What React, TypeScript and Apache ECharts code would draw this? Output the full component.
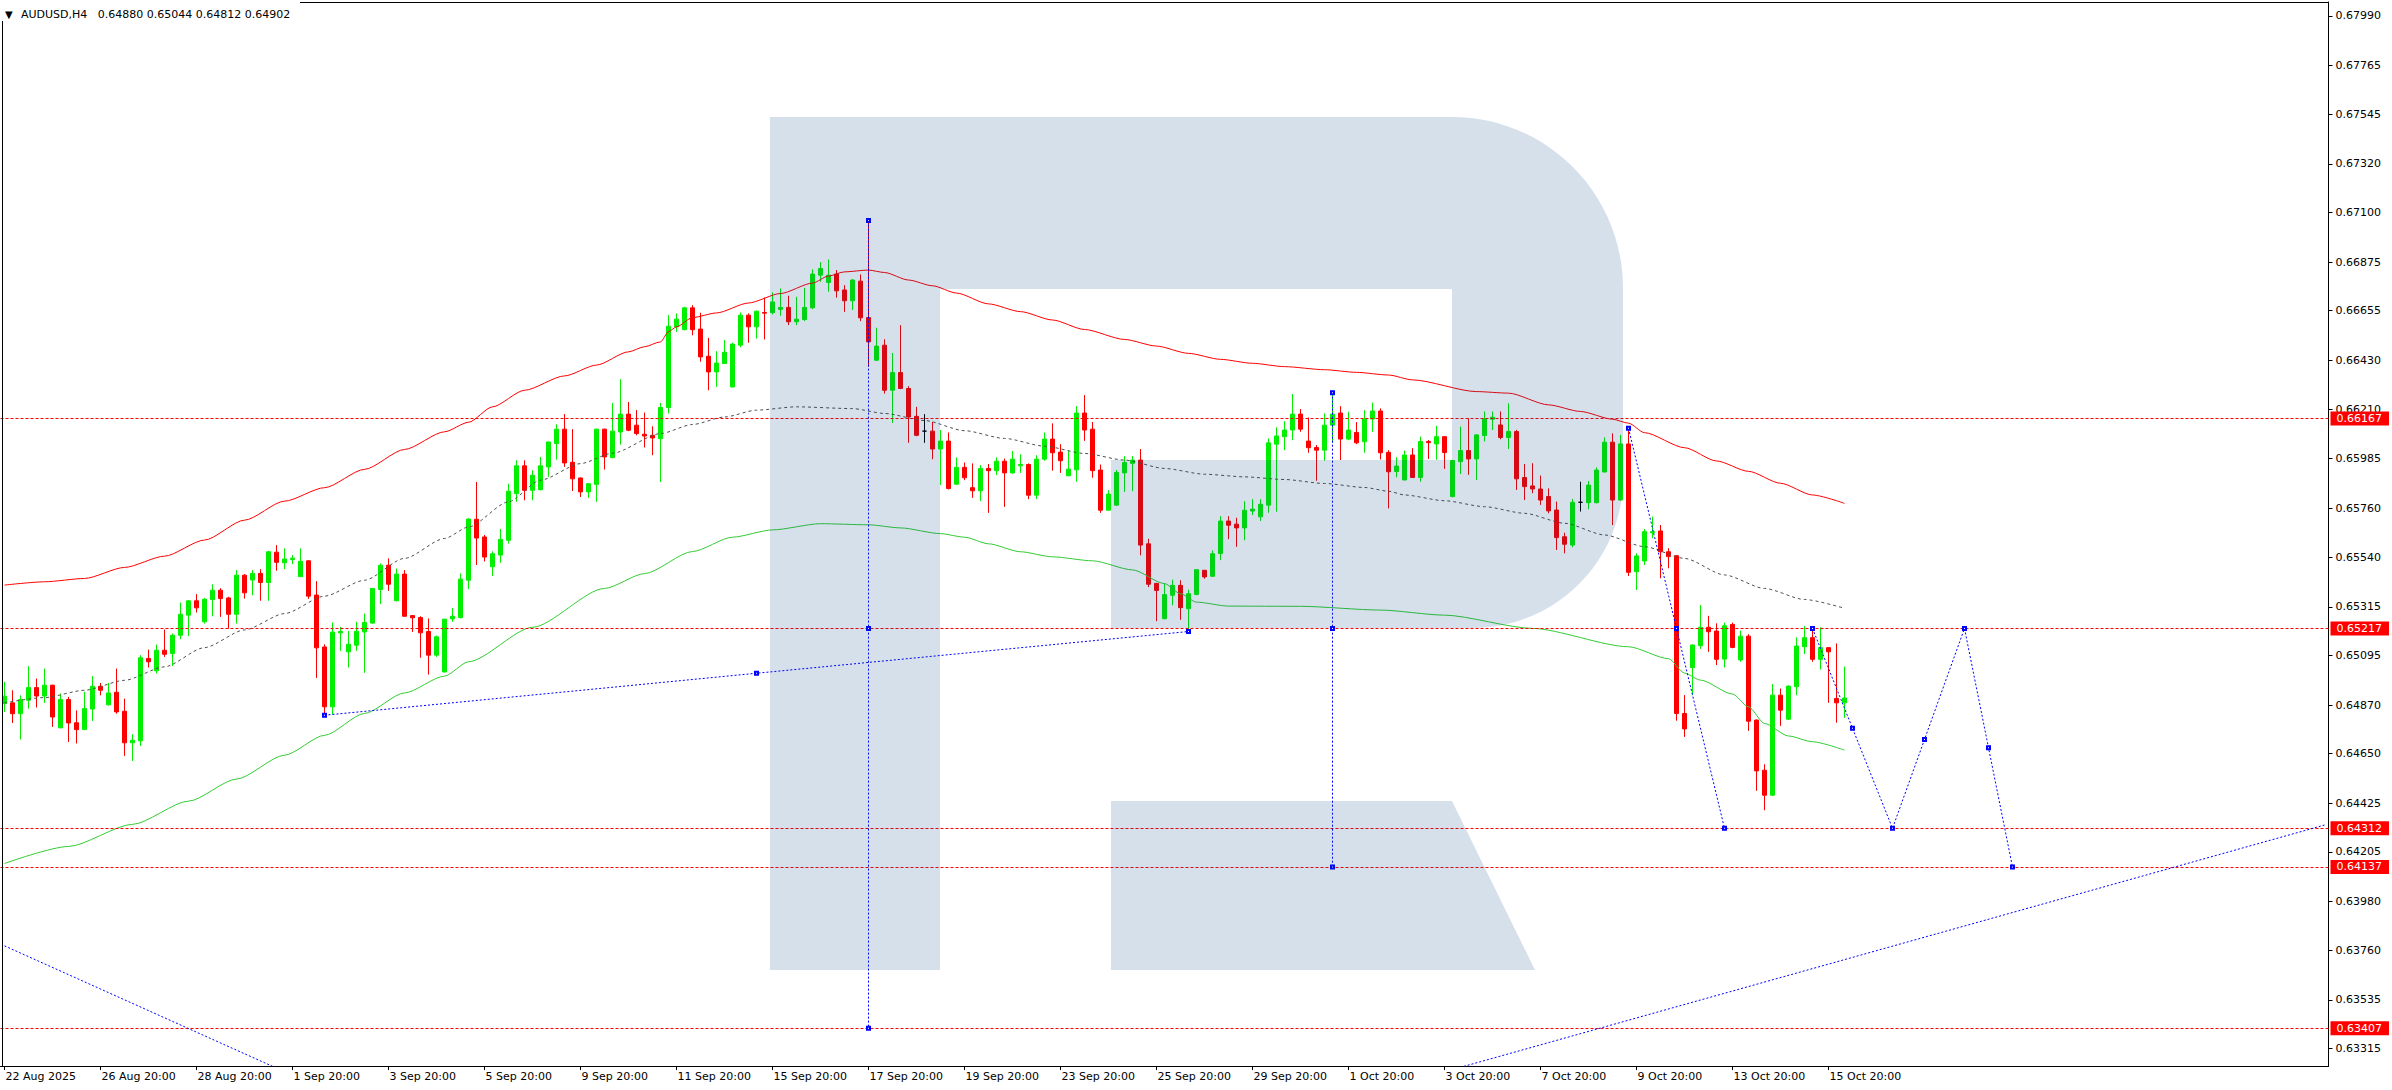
import React, { useEffect, useRef } from "react";
import * as echarts from "echarts";

const W = 2392;
const H = 1090;

// ---------- axis texts ----------
const xTickLabels = [
  "22 Aug 2025", "26 Aug 20:00", "28 Aug 20:00", "1 Sep 20:00", "3 Sep 20:00",
  "5 Sep 20:00", "9 Sep 20:00", "11 Sep 20:00", "15 Sep 20:00", "17 Sep 20:00",
  "19 Sep 20:00", "23 Sep 20:00", "25 Sep 20:00", "29 Sep 20:00", "1 Oct 20:00",
  "3 Oct 20:00", "7 Oct 20:00", "9 Oct 20:00", "13 Oct 20:00", "15 Oct 20:00",
];
const yTickValues = [
  0.6799, 0.67765, 0.67545, 0.6732, 0.671, 0.66875, 0.66655, 0.6643, 0.6621, 0.65985,
  0.6576, 0.6554, 0.65315, 0.65095, 0.6487, 0.6465, 0.64425, 0.64205, 0.6398, 0.6376,
  0.63535, 0.63315,
];
const SLOT_COUNT = 291;
const LABEL_STEP = 12;
const Y_MIN = 0.632362;
const Y_MAX = 0.680525;

// ---------- H4 candles (index 0 = 22 Aug 20:00) ----------
const opens = [
  0.64877, 0.6488, 0.64831, 0.64892, 0.64949, 0.64911, 0.6496, 0.64767, 0.64895, 0.6479,
  0.64759, 0.64852, 0.64955, 0.64871, 0.64928, 0.64842, 0.64699, 0.64708, 0.65081, 0.65025,
  0.65118, 0.65103, 0.65186, 0.65277, 0.65342, 0.65247, 0.65348, 0.6539, 0.65355, 0.65281,
  0.65458, 0.65436, 0.65466, 0.65425, 0.65562, 0.65514, 0.65529, 0.65451, 0.65523, 0.65368,
  0.65133, 0.64862, 0.65197, 0.65111, 0.65141, 0.65201, 0.65241, 0.65393, 0.65503, 0.65342,
  0.65463, 0.65275, 0.65266, 0.65203, 0.65096, 0.6502, 0.6526, 0.65266, 0.65435, 0.65711,
  0.65631, 0.65496, 0.65549, 0.65616, 0.65827, 0.65953, 0.65842, 0.65845, 0.65948, 0.66054,
  0.66119, 0.65969, 0.65898, 0.65835, 0.65869, 0.66119, 0.6599, 0.66106, 0.66187, 0.66137,
  0.66096, 0.66091, 0.66076, 0.66217, 0.66582, 0.66569, 0.66668, 0.66572, 0.66449, 0.66378,
  0.66416, 0.6631, 0.66499, 0.66635, 0.66582, 0.66647, 0.66646, 0.66661, 0.6667, 0.66605,
  0.66615, 0.66668, 0.66816, 0.66783, 0.66821, 0.66749, 0.667, 0.66789, 0.66624, 0.66431,
  0.66499, 0.66295, 0.66375, 0.66303, 0.66177, 0.6611, 0.6611, 0.66029, 0.66065, 0.6587,
  0.65946, 0.65854, 0.6584, 0.65941, 0.65931, 0.65974, 0.65921, 0.65953, 0.65959, 0.6582,
  0.65983, 0.66074, 0.66015, 0.65908, 0.65935, 0.66192, 0.66119, 0.65934, 0.65752, 0.65775,
  0.65921, 0.65964, 0.65979, 0.656, 0.65421, 0.65261, 0.65367, 0.65412, 0.65306, 0.65371,
  0.6548, 0.65453, 0.65556, 0.65703, 0.65689, 0.65672, 0.65748, 0.65722, 0.65775, 0.66051,
  0.66085, 0.66115, 0.66187, 0.66065, 0.66036, 0.66024, 0.66137, 0.66192, 0.66074, 0.66104,
  0.66062, 0.66165, 0.66201, 0.66014, 0.65927, 0.65889, 0.66002, 0.659, 0.66063, 0.66052,
  0.66085, 0.65814, 0.65972, 0.66022, 0.65984, 0.6609, 0.66164, 0.66138, 0.66081, 0.66108,
  0.659, 0.65862, 0.65848, 0.65814, 0.65753, 0.65632, 0.65594, 0.65788, 0.65786, 0.65786,
  0.65925, 0.6606, 0.65798, 0.66052, 0.65474, 0.65522, 0.6565, 0.65658, 0.65564, 0.65546,
  0.64832, 0.6504, 0.65139, 0.65222, 0.65205, 0.65078, 0.65235, 0.65074, 0.65182, 0.64802,
  0.64575, 0.64462, 0.64915, 0.64806, 0.64953, 0.65134, 0.65175, 0.65077, 0.6513, 0.649,
  0.6488,
];
const highs = [
  0.64975, 0.64937, 0.64914, 0.65046, 0.6499, 0.65035, 0.64962, 0.64922, 0.64907, 0.64846,
  0.6493, 0.65001, 0.6497, 0.6497, 0.65035, 0.64899, 0.64738, 0.65096, 0.65121, 0.65144,
  0.65212, 0.65194, 0.65334, 0.65344, 0.65372, 0.65355, 0.65417, 0.65399, 0.6536, 0.65481,
  0.65463, 0.65481, 0.65485, 0.65568, 0.65594, 0.65579, 0.65549, 0.65579, 0.65526, 0.65431,
  0.65145, 0.65244, 0.65224, 0.65206, 0.65247, 0.65284, 0.654, 0.65511, 0.65534, 0.65488,
  0.65481, 0.65277, 0.65272, 0.65262, 0.65185, 0.6526, 0.6531, 0.65466, 0.65715, 0.6588,
  0.6564, 0.65566, 0.65667, 0.65872, 0.65978, 0.65978, 0.65933, 0.65993, 0.66062, 0.66141,
  0.66187, 0.66119, 0.659, 0.65874, 0.66121, 0.66121, 0.66238, 0.66345, 0.66242, 0.66205,
  0.66194, 0.66132, 0.66238, 0.66635, 0.66643, 0.66673, 0.6668, 0.66646, 0.66532, 0.66472,
  0.66522, 0.6651, 0.66647, 0.66643, 0.66655, 0.66715, 0.66738, 0.66756, 0.66723, 0.66718,
  0.66759, 0.66842, 0.66875, 0.66887, 0.66839, 0.66771, 0.66798, 0.66819, 0.67062, 0.66578,
  0.66526, 0.66464, 0.6659, 0.66313, 0.6622, 0.66187, 0.66152, 0.66115, 0.66104, 0.65991,
  0.65968, 0.65964, 0.65956, 0.65961, 0.65991, 0.65986, 0.6602, 0.66005, 0.65964, 0.66001,
  0.66104, 0.66145, 0.66051, 0.66024, 0.66223, 0.66273, 0.66151, 0.65959, 0.65843, 0.65934,
  0.65997, 0.65997, 0.66029, 0.65623, 0.65422, 0.6542, 0.65438, 0.65435, 0.65392, 0.65484,
  0.65482, 0.6557, 0.65725, 0.65725, 0.65718, 0.65793, 0.65802, 0.65802, 0.66077, 0.66127,
  0.66155, 0.66278, 0.6621, 0.66172, 0.66047, 0.6619, 0.66284, 0.66223, 0.66198, 0.66151,
  0.66205, 0.66239, 0.66213, 0.66024, 0.65992, 0.66022, 0.66033, 0.66085, 0.6607, 0.66134,
  0.66087, 0.6598, 0.66131, 0.66168, 0.66097, 0.66199, 0.66199, 0.66199, 0.66236, 0.66116,
  0.65961, 0.65965, 0.65909, 0.65851, 0.65791, 0.6565, 0.65803, 0.65881, 0.65884, 0.65946,
  0.66082, 0.661, 0.66093, 0.66119, 0.65557, 0.65667, 0.65723, 0.65685, 0.6558, 0.65549,
  0.64915, 0.65144, 0.65323, 0.65274, 0.6524, 0.65243, 0.65243, 0.65207, 0.65191, 0.64805,
  0.64602, 0.64965, 0.64945, 0.64958, 0.65176, 0.65228, 0.65225, 0.65222, 0.65132, 0.65149,
  0.65044,
];
const lows = [
  0.64839, 0.64789, 0.64714, 0.64854, 0.64859, 0.6488, 0.64771, 0.64765, 0.64703, 0.64696,
  0.64757, 0.64798, 0.64914, 0.64868, 0.64831, 0.6464, 0.64617, 0.64685, 0.6504, 0.65013,
  0.65088, 0.65047, 0.65168, 0.65182, 0.65289, 0.65239, 0.65272, 0.65269, 0.65216, 0.65239,
  0.65352, 0.65367, 0.65342, 0.65342, 0.65478, 0.65485, 0.65508, 0.6545, 0.65351, 0.64993,
  0.64831, 0.64828, 0.65115, 0.6504, 0.65115, 0.65016, 0.65239, 0.65327, 0.65387, 0.6534,
  0.6527, 0.65201, 0.65084, 0.65008, 0.65088, 0.65018, 0.65247, 0.65262, 0.65395, 0.65504,
  0.6552, 0.65454, 0.65514, 0.65601, 0.6579, 0.65797, 0.65797, 0.65842, 0.65903, 0.65981,
  0.65948, 0.65839, 0.65812, 0.65808, 0.6579, 0.65936, 0.65988, 0.66049, 0.6611, 0.66091,
  0.66036, 0.66001, 0.6588, 0.6619, 0.66559, 0.66567, 0.66544, 0.66424, 0.66295, 0.6631,
  0.66414, 0.66308, 0.66489, 0.6651, 0.66529, 0.66525, 0.66638, 0.66632, 0.6659, 0.6659,
  0.66608, 0.66662, 0.66786, 0.66741, 0.66714, 0.6665, 0.66658, 0.66608, 0.66401, 0.66428,
  0.6628, 0.66147, 0.663, 0.66057, 0.66087, 0.66057, 0.65983, 0.65866, 0.65846, 0.65866,
  0.65888, 0.65808, 0.65793, 0.6574, 0.65911, 0.65767, 0.65918, 0.65921, 0.65802, 0.65802,
  0.65976, 0.65931, 0.65921, 0.65906, 0.65881, 0.66066, 0.65899, 0.6574, 0.6575, 0.65773,
  0.65835, 0.65838, 0.65548, 0.65404, 0.6525, 0.65258, 0.65321, 0.65256, 0.65208, 0.65367,
  0.65442, 0.6545, 0.65526, 0.65621, 0.65586, 0.65616, 0.6573, 0.65703, 0.6574, 0.65745,
  0.66024, 0.66069, 0.66107, 0.66012, 0.65885, 0.65976, 0.66057, 0.65979, 0.66069, 0.66051,
  0.66012, 0.66107, 0.65982, 0.6576, 0.65901, 0.65887, 0.65898, 0.65881, 0.65984, 0.6598,
  0.65939, 0.6581, 0.65916, 0.65912, 0.65889, 0.66063, 0.66115, 0.66073, 0.66029, 0.65844,
  0.65798, 0.65829, 0.65776, 0.65738, 0.65572, 0.65557, 0.65584, 0.65746, 0.65756, 0.65783,
  0.65923, 0.65685, 0.65796, 0.65454, 0.65391, 0.65504, 0.65625, 0.65444, 0.65489, 0.64799,
  0.64726, 0.64915, 0.65124, 0.65111, 0.65051, 0.6504, 0.65127, 0.65066, 0.64753, 0.64482,
  0.64394, 0.6446, 0.64776, 0.64802, 0.64915, 0.65101, 0.65066, 0.65031, 0.6488, 0.6479,
  0.64812,
];
const closes = [
  0.6491, 0.64831, 0.64895, 0.64949, 0.64911, 0.6496, 0.64816, 0.64895, 0.64789, 0.64759,
  0.64854, 0.64955, 0.64937, 0.64925, 0.64839, 0.64699, 0.64711, 0.65084, 0.65066, 0.65118,
  0.651, 0.65186, 0.65281, 0.65342, 0.6531, 0.65349, 0.6539, 0.65352, 0.65281, 0.65458,
  0.65378, 0.65466, 0.65425, 0.65564, 0.65516, 0.65531, 0.65535, 0.65521, 0.65363, 0.65129,
  0.64862, 0.652, 0.65203, 0.65145, 0.65204, 0.65244, 0.65398, 0.65503, 0.65417, 0.65463,
  0.65272, 0.65265, 0.65197, 0.65096, 0.65179, 0.65259, 0.65272, 0.6544, 0.65712, 0.65626,
  0.6554, 0.65555, 0.6562, 0.65838, 0.65953, 0.65842, 0.6591, 0.65953, 0.66061, 0.66119,
  0.65966, 0.65894, 0.65835, 0.65872, 0.66119, 0.65993, 0.6611, 0.66187, 0.66114, 0.66099,
  0.66088, 0.66079, 0.66217, 0.66585, 0.66617, 0.66668, 0.66569, 0.66446, 0.66378, 0.66418,
  0.66467, 0.66504, 0.66635, 0.66582, 0.66653, 0.66644, 0.66695, 0.6667, 0.66605, 0.66617,
  0.6667, 0.66821, 0.66846, 0.66816, 0.66745, 0.667, 0.66794, 0.66623, 0.66514, 0.66495,
  0.66295, 0.66375, 0.66303, 0.66174, 0.66091, 0.6611, 0.66029, 0.66065, 0.6585, 0.65946,
  0.65899, 0.6584, 0.65941, 0.65931, 0.65974, 0.65921, 0.65983, 0.65959, 0.6582, 0.65983,
  0.66074, 0.66012, 0.65976, 0.65938, 0.66192, 0.66115, 0.65931, 0.65752, 0.65825, 0.65923,
  0.65968, 0.65979, 0.65594, 0.65417, 0.65389, 0.6537, 0.65412, 0.65311, 0.65374, 0.65483,
  0.6545, 0.65555, 0.65703, 0.65684, 0.65672, 0.65752, 0.65757, 0.65779, 0.66057, 0.66088,
  0.66115, 0.66187, 0.66119, 0.66035, 0.66024, 0.66137, 0.66187, 0.66074, 0.66115, 0.66057,
  0.66165, 0.66201, 0.66012, 0.65926, 0.65952, 0.66002, 0.659, 0.66063, 0.66058, 0.66085,
  0.66013, 0.65977, 0.66022, 0.65984, 0.66093, 0.66165, 0.66173, 0.66081, 0.66108, 0.65894,
  0.65859, 0.65848, 0.65798, 0.65749, 0.65628, 0.65598, 0.65788, 0.65788, 0.65866, 0.65934,
  0.6606, 0.65798, 0.66052, 0.65471, 0.65545, 0.65655, 0.65655, 0.65564, 0.65542, 0.64832,
  0.64762, 0.65142, 0.65222, 0.65202, 0.65077, 0.65229, 0.65131, 0.65182, 0.64797, 0.64572,
  0.64462, 0.64915, 0.64847, 0.64956, 0.65137, 0.65175, 0.65077, 0.6513, 0.65111, 0.6488,
  0.64902,
];

// ---------- indicator lines [bar index, price] ----------
const redMA = [
  [0, 0.65413], [5, 0.65428], [10, 0.65443], [15, 0.65493], [20, 0.65544], [25, 0.65617],
  [30, 0.65707], [35, 0.65793], [40, 0.65854], [45, 0.65937], [50, 0.66027], [55, 0.66107],
  [58, 0.6615], [61, 0.6622], [65, 0.66295], [70, 0.6636], [74, 0.66409], [78, 0.66469],
  [80, 0.66492], [82, 0.66514], [83, 0.6656], [84, 0.66582], [86, 0.66624], [89, 0.66645],
  [93, 0.6669], [97, 0.66733], [101, 0.6678], [103, 0.66812], [105, 0.66831], [108, 0.66839],
  [110, 0.66828], [113, 0.66794], [116, 0.66768], [119, 0.66735], [123, 0.66686], [127, 0.66651],
  [131, 0.66613], [135, 0.6657], [140, 0.66525], [144, 0.66495], [148, 0.66462], [152, 0.66435],
  [156, 0.66417], [160, 0.66402], [165, 0.66388], [169, 0.66376], [173, 0.66364], [176, 0.66342],
  [184, 0.66289], [188, 0.66282], [193, 0.66229], [197, 0.66199], [201, 0.66164], [203, 0.66146],
  [205, 0.66103], [210, 0.66035], [214, 0.65975], [218, 0.65928], [222, 0.65874], [226, 0.65821],
  [230, 0.65783],
];
const grayMA = [
  [0, 0.6488], [5, 0.64904], [10, 0.64937], [15, 0.64982], [20, 0.65043], [25, 0.6513],
  [30, 0.6521], [35, 0.65284], [40, 0.65363], [45, 0.65435], [50, 0.65534], [55, 0.65624],
  [58, 0.65676], [63, 0.6579], [67, 0.65888], [72, 0.65963], [76, 0.6601], [82, 0.66099],
  [86, 0.6614], [90, 0.66174], [94, 0.66205], [99, 0.6622], [106, 0.66212], [110, 0.6619],
  [115, 0.66158], [120, 0.66112], [125, 0.66077], [130, 0.66042], [135, 0.66009], [140, 0.65979],
  [145, 0.65941], [150, 0.65915], [155, 0.65903], [160, 0.65891], [165, 0.65873], [170, 0.65855],
  [173, 0.65838], [175, 0.65821], [180, 0.65795], [185, 0.65768], [190, 0.65738], [195, 0.65693],
  [200, 0.6564], [205, 0.65587], [210, 0.65534], [215, 0.65459], [220, 0.65398], [225, 0.65348],
  [230, 0.65308],
];
const greenMA = [
  [0, 0.64153], [8, 0.6423], [16, 0.6433], [23, 0.64435], [29, 0.64535], [35, 0.64643],
  [40, 0.64733], [45, 0.64832], [50, 0.64925], [55, 0.65001], [58, 0.65066], [66, 0.65222],
  [75, 0.65398], [80, 0.65465], [86, 0.65565], [91, 0.6563], [96, 0.65663], [102, 0.65691],
  [108, 0.65686], [112, 0.65672], [117, 0.65646], [120, 0.6563], [123, 0.656], [127, 0.65564],
  [131, 0.65541], [136, 0.65523], [141, 0.65482], [145, 0.6542], [147, 0.65374], [149, 0.65336],
  [153, 0.65318], [162, 0.65317], [172, 0.653], [180, 0.65277], [191, 0.65217], [203, 0.65134],
  [208, 0.6508], [210, 0.65015], [212, 0.64983], [216, 0.6492], [218, 0.64862], [220, 0.64787],
  [223, 0.6473], [226, 0.64704], [230, 0.64666],
];

// ---------- levels and drawn objects ----------
const levelLines = [0.66167, 0.65217, 0.64312, 0.64137, 0.63407];
const lastPrice = 0.64902;
const trendDownLeft = [[0, 0.6378], [40, 0.63129]];
const trendUpMid = [[40, 0.64824], [94, 0.65014], [148, 0.65203]];
const trendUpRight = [[180, 0.6321], [290, 0.64327]];
const vLineA = [[108, 0.67063], [108, 0.65217], [108, 0.63407]];
const vLineB = [[166, 0.66284], [166, 0.65217], [166, 0.64137]];
const forecastA = [[203, 0.66123], [209, 0.65217], [215, 0.64312]];
const forecastB = [
  [226, 0.65217], [231, 0.64765], [236, 0.64312], [240, 0.64714],
  [245, 0.65217], [248, 0.64677], [251, 0.64137],
];

// ---------- watermark shape ----------
const LOGO_PATH =
  "M770,117 L1452,117 C1546.4,117 1623,193.6 1623,288 L1623,478 C1623,560.8 1555.8,628 1473,628 " +
  "L1111,628 L1111,460 L1452,460 L1452,289 L940,289 L940,970 L770,970 Z " +
  "M1111,801 L1452,801 L1535,970 L1111,970 Z";
echarts.graphic.registerShape("rfLogo", echarts.graphic.extendPath(LOGO_PATH, {}));

const FONT = "DejaVu Sans";
const UP = "#00f000";
const DOWN = "#ff0000";
const BLUE = "#0000ff";

function buildOption() {
  const categories = Array.from({ length: SLOT_COUNT }, (_, i) => String(i));
  const isLabelSlot = (i: number) =>
    i % LABEL_STEP === 0 && i / LABEL_STEP < xTickLabels.length;

  const candleData = opens.map((o, i) => {
    const v = [o, closes[i], lows[i], highs[i]];
    if (o === closes[i]) {
      return {
        value: v,
        itemStyle: { color: "#000", color0: "#000", borderColor: "#000", borderColor0: "#000" },
      };
    }
    return v;
  });

  const boxLabel = (bg: string, v: number) => ({
    show: true,
    position: "end",
    formatter: v.toFixed(5),
    color: "#fff",
    backgroundColor: bg,
    padding: [2, 7, 1, 6],
    distance: 2,
    fontSize: 11,
    fontFamily: FONT,
  });

  const markData: any[] = levelLines.map((v) => ({
    yAxis: v,
    lineStyle: { color: DOWN, type: [3, 2], width: 1 },
    label: boxLabel(DOWN, v),
  }));
  markData.push({
    yAxis: lastPrice,
    lineStyle: { opacity: 0 },
    label: boxLabel("#000", lastPrice),
  });

  const blueLine = (data: number[][], withSymbols: boolean) => ({
    type: "line",
    data,
    symbol: withSymbols ? "emptyRect" : "none",
    symbolSize: 3,
    showSymbol: withSymbols,
    lineStyle: { color: BLUE, width: 1, type: [2, 2] },
    itemStyle: { color: BLUE, borderColor: BLUE, borderWidth: 1 },
    z: 5,
    silent: true,
    clip: true,
  });

  const maLine = (data: number[][], color: string, dashed: boolean) => ({
    type: "line",
    data,
    symbol: "none",
    smooth: 0.25,
    smoothMonotone: "x",
    lineStyle: { color, width: 1, type: dashed ? [3, 3] : "solid" },
    z: 4,
    silent: true,
    clip: true,
  });

  const last = opens.length - 1;
  const headerText =
    "AUDUSD,H4   " +
    [opens[last], highs[last], lows[last], closes[last]].map((v) => v.toFixed(5)).join(" ");

  return {
    animation: false,
    backgroundColor: "#ffffff",
    textStyle: { fontFamily: FONT },
    grid: {
      left: 0.5,
      top: 2,
      width: 2328,
      height: 1064,
      containLabel: false,
      outerBoundsMode: "none",
    },
    xAxis: {
      type: "category",
      data: categories,
      boundaryGap: true,
      axisLine: { show: true, lineStyle: { color: "#000", width: 1 } },
      axisTick: {
        show: true,
        alignWithLabel: true,
        interval: (i: number) => isLabelSlot(i),
        length: 4,
        lineStyle: { color: "#000" },
      },
      axisLabel: {
        show: true,
        interval: (i: number) => isLabelSlot(i),
        formatter: (_v: string, i: number) =>
          isLabelSlot(i) ? xTickLabels[i / LABEL_STEP] : "",
        align: "left",
        color: "#000",
        fontSize: 11,
        fontFamily: FONT,
        margin: 5,
        padding: [0, 0, 0, 1],
      },
      splitLine: { show: false },
    },
    yAxis: {
      type: "value",
      position: "right",
      min: Y_MIN,
      max: Y_MAX,
      axisLine: { show: true, lineStyle: { color: "#000", width: 1 } },
      axisTick: { show: true, length: 4, customValues: yTickValues, lineStyle: { color: "#000" } },
      axisLabel: {
        show: true,
        customValues: yTickValues,
        formatter: (v: number) => v.toFixed(5),
        color: "#000",
        fontSize: 11,
        fontFamily: FONT,
        margin: 7,
      },
      splitLine: { show: false },
    },
    series: [
      {
        type: "candlestick",
        data: candleData,
        barWidth: 4,
        clip: true,
        z: 2,
        silent: true,
        itemStyle: {
          color: UP,
          color0: DOWN,
          borderColor: UP,
          borderColor0: DOWN,
          borderWidth: 1,
        },
        markLine: {
          silent: true,
          symbol: ["none", "none"],
          animation: false,
          precision: 5,
          data: markData,
        },
      },
      maLine(redMA, "#ff0000", false),
      maLine(grayMA, "#505050", true),
      maLine(greenMA, "#32cd32", false),
      blueLine(trendDownLeft, false),
      blueLine(trendUpMid, true),
      blueLine(trendUpRight, false),
      blueLine(vLineA, true),
      blueLine(vLineB, true),
      blueLine(forecastA, true),
      blueLine(forecastB, true),
    ],
    graphic: {
      elements: [
        {
          type: "line",
          shape: { x1: 2.5, y1: 2, x2: 2.5, y2: 1066 },
          style: { stroke: "#000", lineWidth: 1 },
          z: 100,
          silent: true,
        },
        {
          type: "line",
          shape: { x1: 2, y1: 2.5, x2: 2329, y2: 2.5 },
          style: { stroke: "#000", lineWidth: 1 },
          z: 100,
          silent: true,
        },
        {
          type: "rfLogo",
          x: 0,
          y: 0,
          scaleX: 1,
          scaleY: 1,
          style: { fill: "rgba(0, 61, 130, 0.16)" },
          z: 101,
          silent: true,
        },
        {
          type: "rect",
          shape: { x: 0, y: 0, width: 300, height: 21 },
          style: { fill: "#ffffff" },
          z: 102,
          silent: true,
        },
        {
          type: "text",
          x: 5,
          y: 14,
          style: {
            text: "▼",
            fill: "#000",
            font: `10px "${FONT}"`,
            textVerticalAlign: "middle",
            verticalAlign: "middle",
          },
          z: 103,
          silent: true,
        },
        {
          type: "text",
          x: 21,
          y: 14,
          style: {
            text: headerText,
            fill: "#000",
            font: `11px "${FONT}"`,
            textVerticalAlign: "middle",
            verticalAlign: "middle",
          },
          z: 103,
          silent: true,
        },
      ],
    },
  };
}

export default function App() {
  const ref = useRef<HTMLDivElement>(null);
  useEffect(() => {
    if (!ref.current) return;
    const chart = echarts.init(ref.current, null, { renderer: "svg", width: W, height: H });
    chart.setOption(buildOption() as any);
    return () => {
      chart.dispose();
    };
  }, []);
  return (
    <div
      ref={ref}
      style={{ position: "absolute", left: 0, top: 0, width: W, height: H, background: "#fff" }}
    />
  );
}
